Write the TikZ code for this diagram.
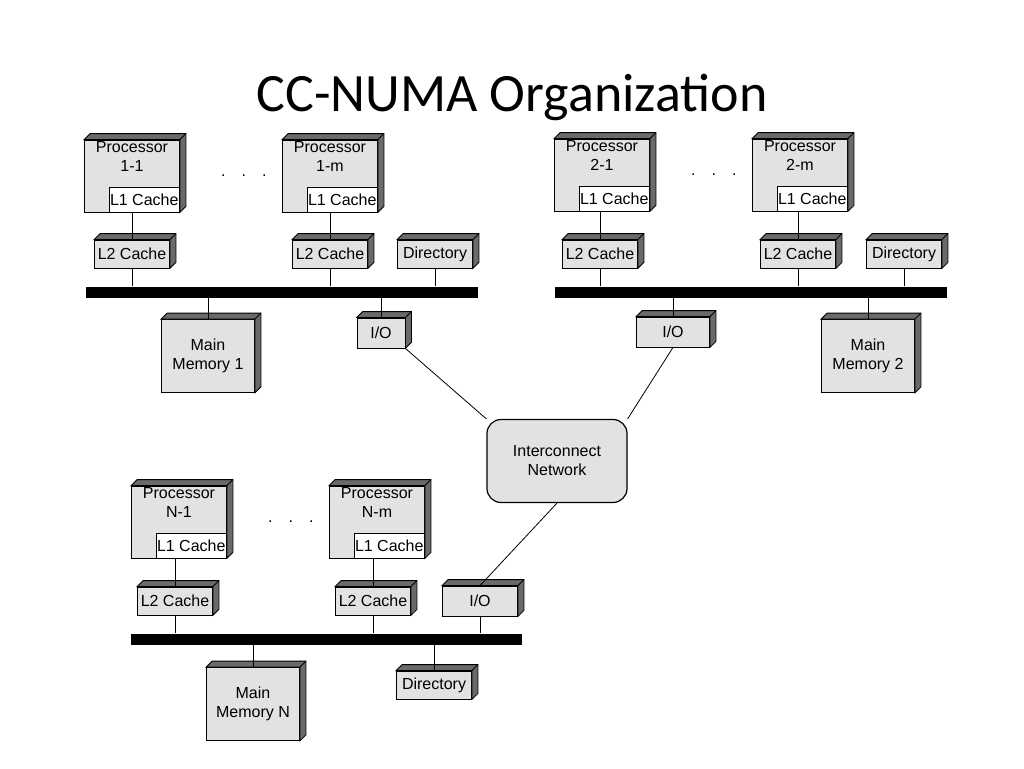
\documentclass[tikz,border=0pt]{standalone}
\usepackage{fontspec}
\setmainfont{Liberation Sans}
\newfontfamily\titlefont{Carlito}
\usetikzlibrary{positioning,calc}
\definecolor{boxfront}{HTML}{E2E2E2}
\definecolor{boxside}{HTML}{6A6A6A}

\begin{document}
\begin{tikzpicture}[x=1pt,y=-1pt,
    cube/.style={draw,thick,fill=boxfront,inner sep=1pt,font=\fontsize{16}{19}\selectfont,align=center},
    side/.style={draw,thick,fill=boxside},
    proc/.style={cube,minimum width=95pt,minimum height=72pt},
    lone/.style={draw,thick,fill=white,minimum width=70pt,minimum height=25pt,inner sep=1pt,font=\fontsize{16}{19}\selectfont},
    small/.style={cube,minimum width=75pt,minimum height=28pt},
    mem/.style={cube,minimum width=93pt,minimum height=73pt},
    iobox/.style={cube,minimum width=48pt,minimum height=30pt},
    bus/.style={fill=black,inner sep=0pt,minimum height=11pt},
    wire/.style={thick},
    dots/.style={font=\fontsize{16}{19}\selectfont}]

    \useasboundingbox (0,0) rectangle (1024,768);
    \node[font=\titlefont\fontsize{54}{60}\selectfont] (title) at (512,97) {CC-NUMA Organization};

    % processors with their L1 caches
    \foreach \nm/\x/\y/\lab in {p11/132/176/1-1, p1m/330/176/1-m, p21/602/175/2-1, p2m/800/175/2-m, pn1/179/522/N-1, pnm/377/522/N-m}{
      \node[proc] (\nm) at (\x,\y) {};
      \node[anchor=north,font=\fontsize{16}{19}\selectfont,align=center,inner sep=2pt] (\nm t) at (\nm.north) {Processor\\\lab};
      \node[lone,anchor=south east] (\nm c) at (\nm.south east) {L1 Cache};
    }
    \foreach \nm in {p1m,p2m,pnm}{
      \node[dots,left=12pt of \nm] (\nm d) {.\quad.\quad.};
    }

    % second level caches and directories
    \node[small] (l11) at (132,254) {L2 Cache};
    \node[small] (l1m) at (330,254) {L2 Cache};
    \node[small] (dir1) at (435,254) {Directory};
    \node[small] (l21) at (600,254) {L2 Cache};
    \node[small] (l2m) at (798,254) {L2 Cache};
    \node[small] (dir2) at (904,254) {Directory};
    \node[small] (ln1) at (175,601) {L2 Cache};
    \node[small] (lnm) at (373,601) {L2 Cache};
    \node[small] (dirn) at (434,685) {Directory};

    % buses
    \node[bus,minimum width=392pt] (bus1) at (282,292) {};
    \node[bus,minimum width=392pt] (bus2) at (751,292) {};
    \node[bus,minimum width=391pt] (busn) at (326,639) {};

    % memories and I/O
    \node[mem] (mem1) at (208,356) {Main\\Memory 1};
    \node[mem] (mem2) at (868,356) {Main\\Memory 2};
    \node[mem] (memn) at (253,704) {Main\\Memory N};
    \node[iobox] (io1) at (381,333) {I/O};
    \node[iobox,minimum width=73pt] (io2) at (673,332) {I/O};
    \node[iobox,minimum width=75pt] (ion) at (480,601) {I/O};

    % top and right faces of the boxes
    \foreach \nm in {p11,p1m,p21,p2m,pn1,pnm,l11,l1m,dir1,l21,l2m,dir2,ln1,lnm,dirn,mem1,mem2,memn,io1,io2,ion}{
      \path[side] (\nm.north west) -- ++(6pt,6pt) -| ([shift={(6pt,6pt)}]\nm.south east)
        -- (\nm.south east) -- (\nm.north east) -- cycle;
      \draw[thick] (\nm.north east) -- ++(6pt,6pt);
    }

    \node[draw,very thick,fill=boxfront,rounded corners=14pt,minimum width=140pt,minimum height=83pt,
      align=center,font=\fontsize{16}{19}\selectfont] (net) at (557,461) {Interconnect\\Network};

    % connectors
    \foreach \a/\b in {p11/l11, p1m/l1m, p21/l21, p2m/l2m, pn1/ln1, pnm/lnm}{
      \draw[wire] (\b.north) -- (\b.north |- \a.south);
    }
    \foreach \a/\b in {l11/bus1, l1m/bus1, dir1/bus1, l21/bus2, l2m/bus2, dir2/bus2, ln1/busn, lnm/busn, ion/busn}{
      \draw[wire] (\a.south) -- (\a.south |- \b.north);
    }
    \foreach \a/\b in {mem1/bus1, io1/bus1, io2/bus2, mem2/bus2, memn/busn, dirn/busn}{
      \draw[wire] (\a.north) -- (\a.north |- \b.south);
    }
    \draw[wire] (io1.south east) -- (net.north west);
    \draw[wire] (io2.south) -- (net.north east);
    \draw[wire] (ion.north) -- (net.south);
\end{tikzpicture}
\end{document}
